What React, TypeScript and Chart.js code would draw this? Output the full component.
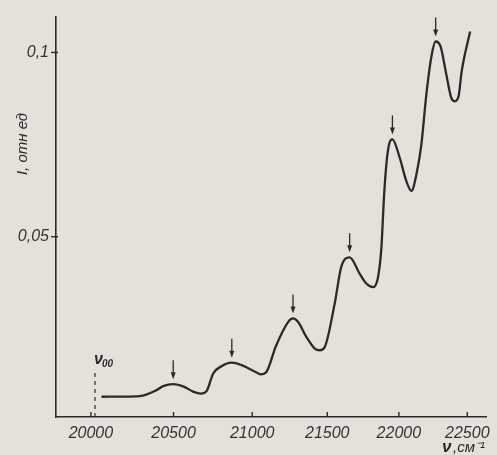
import React, { useEffect, useRef } from 'react';
import { Chart, registerables, LinearScale } from 'chart.js';

Chart.register(...registerables);

// Spectrometer axis: linear in wavelength, labelled in wavenumber (cm^-1)
class ReciprocalScale extends LinearScale {
  static id = 'reciprocal';
  static defaults = {};
  getPixelForValue(value: any) {
    if (value === null || value === undefined) return NaN;
    const a = 1 / this.min;
    const b = 1 / this.max;
    return this.getPixelForDecimal((a - 1 / value) / (a - b));
  }
  getValueForPixel(pixel: number) {
    const d = this.getDecimalForPixel(pixel);
    const a = 1 / this.min;
    const b = 1 / this.max;
    return 1 / (a - d * (a - b));
  }
}
Chart.register(ReciprocalScale as any);

// ---- data ----
const wavenumbers = [
  20063, 20184, 20293, 20395, 20436, 20498, 20564, 20622, 20671, 20707,
  20749, 20802, 20868, 20931, 21028, 21056, 21093, 21155, 21236, 21269,
  21303, 21359, 21415, 21449, 21483, 21551, 21596, 21654, 21724, 21770,
  21817, 21852, 21876, 21894, 21911, 21930, 21954, 22006, 22053, 22090,
  22128, 22162, 22198, 22235, 22266, 22302, 22340, 22381, 22406, 22435,
  22458, 22521,
];
const intensity = [
  0.00657, 0.00662, 0.00676, 0.00838, 0.00946, 0.0100, 0.00932, 0.00797, 0.00743, 0.0081,
  0.01289, 0.01486, 0.01581, 0.01514, 0.01316, 0.01265, 0.01332, 0.02027, 0.02684, 0.02784,
  0.02684, 0.02278, 0.01965, 0.01919, 0.02008, 0.03189, 0.04180, 0.04441, 0.03992, 0.0373,
  0.0363, 0.039, 0.04711, 0.06062, 0.06965, 0.07505, 0.07641, 0.07143, 0.06514, 0.06243,
  0.0673, 0.07505, 0.08857, 0.09892, 0.10297, 0.10162, 0.09486, 0.08765, 0.08676, 0.08811,
  0.09486, 0.10568,
];
const xTickValues = [20000, 20500, 21000, 21500, 22000, 22500];
const yTickValues = [0.05, 0.1];
const peakWavenumbers = [20498, 20868, 21269, 21654, 21954, 22266];
const peakIntensities = [0.0100, 0.01581, 0.02784, 0.04441, 0.07641, 0.10297];
const nu00 = 20024;
const nu00Height = 0.0133;

const X_MIN = 19796;
const X_MAX = 22645;
const Y_MIN = 0.00108;
const Y_MAX = 0.10973;

const INK = '#2a2a2a';
const PAPER = '#e3e1d9';
const FONT = '"Liberation Sans", Arial, sans-serif';

const decorations = {
  id: 'decorations',
  beforeDraw(chart: any) {
    const { ctx, width, height } = chart;
    ctx.save();
    ctx.fillStyle = PAPER;
    ctx.fillRect(0, 0, width, height);
    ctx.restore();
  },
  afterDraw(chart: any) {
    const { ctx, chartArea } = chart;
    const xs = chart.scales.x;
    const ys = chart.scales.y;
    ctx.save();
    ctx.strokeStyle = INK;
    ctx.fillStyle = INK;
    ctx.lineWidth = 1.4;
    // tick marks
    xTickValues.forEach((v) => {
      const px = xs.getPixelForValue(v);
      ctx.beginPath();
      ctx.moveTo(px, chartArea.bottom);
      ctx.lineTo(px, chartArea.bottom - 5);
      ctx.stroke();
    });
    yTickValues.forEach((v) => {
      const py = ys.getPixelForValue(v);
      ctx.beginPath();
      ctx.moveTo(chartArea.left - 5, py);
      ctx.lineTo(chartArea.left + 2, py);
      ctx.stroke();
    });
    // nu00 dashed marker
    const nx = xs.getPixelForValue(nu00);
    ctx.save();
    ctx.lineWidth = 1.2;
    ctx.setLineDash([4, 4]);
    ctx.beginPath();
    ctx.moveTo(nx, chartArea.bottom);
    ctx.lineTo(nx, ys.getPixelForValue(nu00Height));
    ctx.stroke();
    ctx.restore();
    ctx.textBaseline = 'alphabetic';
    ctx.textAlign = 'left';
    ctx.font = 'italic bold 16px ' + FONT;
    ctx.fillText('ν', nx - 1, 364);
    ctx.font = 'italic bold 10px ' + FONT;
    ctx.fillText('00', nx + 7, 367);
    // peak arrows
    peakWavenumbers.forEach((nu, i) => {
      const px = xs.getPixelForValue(nu);
      const tip = ys.getPixelForValue(peakIntensities[i]) - 5;
      ctx.lineWidth = 1.3;
      ctx.beginPath();
      ctx.moveTo(px, tip - 19);
      ctx.lineTo(px, tip - 5);
      ctx.stroke();
      ctx.beginPath();
      ctx.moveTo(px - 2.5, tip - 7);
      ctx.lineTo(px + 2.5, tip - 7);
      ctx.lineTo(px, tip);
      ctx.closePath();
      ctx.fill();
    });
    // axis titles
    ctx.save();
    ctx.translate(27, 144);
    ctx.rotate(-Math.PI / 2);
    ctx.textAlign = 'center';
    ctx.font = 'italic 15px ' + FONT;
    ctx.fillText('I, отн ед', 0, 0);
    ctx.restore();
    ctx.textAlign = 'left';
    ctx.font = 'italic bold 17px ' + FONT;
    ctx.fillText('ν', 442, 452);
    ctx.font = 'italic 15px ' + FONT;
    ctx.fillText(',см⁻¹', 453, 452);
    ctx.restore();
  },
};

export default function App() {
  const canvasRef = useRef<HTMLCanvasElement | null>(null);

  useEffect(() => {
    if (!canvasRef.current) return;
    const chart = new Chart(canvasRef.current, {
      type: 'line',
      data: {
        datasets: [
          {
            data: wavenumbers.map((nu, i) => ({ x: nu, y: intensity[i] })),
            borderColor: INK,
            borderWidth: 2.3,
            pointRadius: 0,
            fill: false,
            cubicInterpolationMode: 'monotone',
          },
        ],
      },
      options: {
        animation: false,
        responsive: false,
        devicePixelRatio: 1,
        layout: { padding: { top: 15, right: 10, left: 0, bottom: 0 } },
        plugins: { legend: { display: false }, tooltip: { enabled: false }, title: { display: false } },
        scales: {
          x: {
            type: 'reciprocal' as any,
            min: X_MIN,
            max: X_MAX,
            position: 'bottom',
            grid: { display: true, drawOnChartArea: false, drawTicks: false, color: 'transparent' },
            border: { display: true, color: INK, width: 1.6 },
            ticks: {
              autoSkip: false,
              maxRotation: 0,
              padding: 7,
              color: '#333',
              font: { family: FONT, size: 16, style: 'italic' },
              callback: (v: any) => String(v),
            },
            afterBuildTicks: (s: any) => {
              s.ticks = xTickValues.map((v) => ({ value: v }));
            },
            afterFit: (s: any) => {
              s.height = 38;
            },
          } as any,
          y: {
            type: 'linear',
            min: Y_MIN,
            max: Y_MAX,
            grid: { display: true, drawOnChartArea: false, drawTicks: false, color: 'transparent' },
            border: { display: true, color: INK, width: 1.6 },
            ticks: {
              padding: 7,
              color: '#333',
              font: { family: FONT, size: 16, style: 'italic' },
              callback: (v: any) => String(Math.round(v * 100) / 100).replace('.', ','),
            },
            afterBuildTicks: (s: any) => {
              s.ticks = yTickValues.map((v) => ({ value: v }));
            },
            afterFit: (s: any) => {
              s.width = 56;
            },
          } as any,
        },
      },
      plugins: [decorations],
    });
    return () => chart.destroy();
  }, []);

  return (
    <div style={{ position: 'fixed', left: 0, top: 0, width: 497, height: 455 }}>
      <canvas ref={canvasRef} width={497} height={455} style={{ display: 'block' }} />
    </div>
  );
}
